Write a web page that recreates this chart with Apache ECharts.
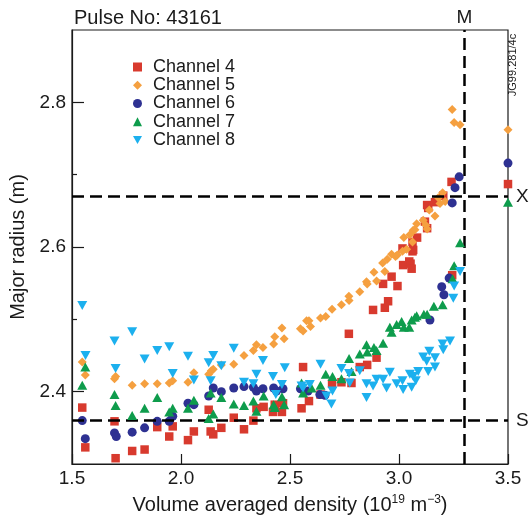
<!DOCTYPE html>
<html>
<head>
<meta charset="utf-8">
<script src="https://cdn.jsdelivr.net/npm/echarts@6/dist/echarts.min.js"></script>
<style>
  html, body { margin: 0; padding: 0; background: #ffffff; }
  #chart { width: 532px; height: 520px; }
</style>
</head>
<body>
<div id="chart"></div>
<script>
// Pulse 43161: major radius of each ECE channel vs. volume averaged density
const seriesNames = ['Channel 4', 'Channel 5', 'Channel 6', 'Channel 7', 'Channel 8'];

const ch4 = [
  [1.547, 2.378], [1.561, 2.323], [1.695, 2.359], [1.700, 2.308], [1.776, 2.318],
  [1.833, 2.320], [1.891, 2.351], [1.946, 2.338], [1.962, 2.352], [2.032, 2.333],
  [2.059, 2.345], [2.127, 2.375], [2.136, 2.345], [2.148, 2.341], [2.185, 2.350],
  [2.242, 2.364], [2.289, 2.348], [2.332, 2.360], [2.346, 2.377], [2.379, 2.379],
  [2.422, 2.372], [2.430, 2.382], [2.463, 2.372], [2.468, 2.384], [2.553, 2.377],
  [2.560, 2.434], [2.587, 2.387], [2.640, 2.396], [2.693, 2.411], [2.736, 2.413],
  [2.770, 2.480], [2.782, 2.412], [2.820, 2.434], [2.854, 2.437], [2.881, 2.513],
  [2.897, 2.447], [2.927, 2.549], [2.935, 2.516], [2.950, 2.525], [2.966, 2.559],
  [2.993, 2.546], [3.016, 2.598], [3.019, 2.575], [3.047, 2.580], [3.053, 2.577],
  [3.058, 2.570], [3.062, 2.594], [3.062, 2.607], [3.065, 2.596], [3.083, 2.613],
  [3.119, 2.635], [3.129, 2.626], [3.129, 2.658], [3.134, 2.654], [3.165, 2.662],
  [3.203, 2.671], [3.241, 2.690], [3.244, 2.561], [3.500, 2.687]
];

const ch5 = [
  [1.547, 2.441], [1.561, 2.423], [1.695, 2.418], [1.700, 2.421], [1.776, 2.409],
  [1.833, 2.411], [1.891, 2.411], [1.946, 2.412], [1.962, 2.415], [2.032, 2.413],
  [2.059, 2.426], [2.127, 2.424], [2.139, 2.429], [2.148, 2.431], [2.185, 2.437],
  [2.242, 2.438], [2.289, 2.450], [2.332, 2.457], [2.346, 2.465], [2.376, 2.461],
  [2.425, 2.466], [2.430, 2.476], [2.463, 2.488], [2.473, 2.473], [2.548, 2.487],
  [2.560, 2.484], [2.576, 2.498], [2.587, 2.498], [2.594, 2.490], [2.640, 2.502],
  [2.664, 2.504], [2.693, 2.514], [2.736, 2.520], [2.770, 2.532], [2.771, 2.526],
  [2.820, 2.538], [2.851, 2.552], [2.854, 2.549], [2.885, 2.565], [2.897, 2.553],
  [2.925, 2.578], [2.935, 2.566], [2.946, 2.583], [2.966, 2.590], [2.984, 2.587],
  [2.992, 2.589], [3.016, 2.594], [3.022, 2.613], [3.035, 2.597], [3.050, 2.617],
  [3.062, 2.607], [3.065, 2.623], [3.073, 2.624], [3.081, 2.632], [3.111, 2.637],
  [3.123, 2.630], [3.129, 2.625], [3.139, 2.651], [3.165, 2.643], [3.180, 2.668],
  [3.188, 2.660], [3.200, 2.675], [3.212, 2.663], [3.244, 2.790], [3.253, 2.772],
  [3.280, 2.769], [3.500, 2.762]
];

const ch6 = [
  [1.547, 2.360], [1.561, 2.335], [1.695, 2.343], [1.703, 2.338], [1.776, 2.344],
  [1.833, 2.350], [1.891, 2.359], [1.946, 2.359], [1.962, 2.366], [2.032, 2.384],
  [2.059, 2.382], [2.127, 2.394], [2.148, 2.405], [2.185, 2.400], [2.242, 2.405],
  [2.289, 2.407], [2.332, 2.406], [2.346, 2.401], [2.376, 2.404], [2.425, 2.405],
  [2.438, 2.401], [2.468, 2.404], [2.548, 2.404], [2.583, 2.401], [2.637, 2.396],
  [2.660, 2.395], [3.142, 2.499], [3.196, 2.545], [3.206, 2.534], [3.230, 2.557],
  [3.244, 2.661], [3.257, 2.682], [3.276, 2.697], [3.500, 2.716]
];

const ch7 = [
  [1.547, 2.409], [1.561, 2.434], [1.695, 2.396], [1.700, 2.381], [1.776, 2.367],
  [1.833, 2.377], [1.891, 2.392], [1.946, 2.372], [1.962, 2.377], [2.032, 2.377],
  [2.059, 2.388], [2.127, 2.363], [2.136, 2.398], [2.148, 2.369], [2.185, 2.392],
  [2.242, 2.383], [2.289, 2.381], [2.332, 2.387], [2.346, 2.373], [2.379, 2.394],
  [2.425, 2.382], [2.430, 2.378], [2.463, 2.393], [2.473, 2.382], [2.553, 2.412],
  [2.560, 2.398], [2.599, 2.405], [2.640, 2.409], [2.664, 2.424], [2.695, 2.421],
  [2.736, 2.418], [2.771, 2.446], [2.782, 2.428], [2.820, 2.452], [2.851, 2.465],
  [2.854, 2.455], [2.885, 2.461], [2.897, 2.457], [2.927, 2.467], [2.958, 2.489],
  [2.966, 2.482], [2.989, 2.493], [3.012, 2.497], [3.022, 2.489], [3.047, 2.489],
  [3.058, 2.499], [3.073, 2.503], [3.081, 2.505], [3.114, 2.507], [3.129, 2.507],
  [3.160, 2.518], [3.200, 2.520], [3.246, 2.556], [3.253, 2.574], [3.280, 2.606],
  [3.500, 2.662]
];

const ch8 = [
  [1.547, 2.519], [1.562, 2.450], [1.695, 2.470], [1.700, 2.432], [1.776, 2.483],
  [1.833, 2.445], [1.891, 2.457], [1.946, 2.462], [1.962, 2.425], [2.032, 2.449],
  [2.059, 2.416], [2.127, 2.440], [2.136, 2.415], [2.148, 2.450], [2.185, 2.436],
  [2.242, 2.460], [2.289, 2.413], [2.332, 2.411], [2.346, 2.424], [2.376, 2.443],
  [2.422, 2.421], [2.435, 2.396], [2.463, 2.410], [2.476, 2.433], [2.553, 2.408],
  [2.560, 2.405], [2.591, 2.410], [2.640, 2.438], [2.667, 2.394], [2.690, 2.383],
  [2.695, 2.401], [2.736, 2.432], [2.771, 2.425], [2.774, 2.412], [2.820, 2.429],
  [2.851, 2.411], [2.851, 2.392], [2.881, 2.408], [2.897, 2.417], [2.927, 2.417],
  [2.943, 2.405], [2.958, 2.427], [2.989, 2.411], [3.016, 2.415], [3.019, 2.403],
  [3.050, 2.424], [3.058, 2.406], [3.065, 2.421], [3.077, 2.415], [3.088, 2.428],
  [3.111, 2.448], [3.127, 2.442], [3.134, 2.428], [3.139, 2.456], [3.165, 2.434],
  [3.165, 2.447], [3.200, 2.466], [3.203, 2.458], [3.234, 2.470], [3.249, 2.529],
  [3.253, 2.546], [3.280, 2.566]
];

// Reference lines: M (density limit), X and S (radius positions)
const densityM = 3.3;
const radiusX = 2.673;
const radiusS = 2.36;

const xTicks = [1.5, 2.0, 2.5, 3.0, 3.5];
const yMajorTicks = [2.4, 2.6, 2.8];
const yMinorTicks = [2.5, 2.7];

const colors = ['#d83a2e', '#f5a040', '#2e3192', '#0e9c4c', '#1cb0ee'];
const symbols = ['rect', 'diamond', 'circle', 'triangle', 'path://M0,0 L10,0 L5,9 Z'];
const sizes = [[8.5, 8.5], [9, 9], [9, 9], [10, 9], [10, 9]];

const FONT = '"Liberation Sans", Arial, Helvetica, sans-serif';
const INK = '#1a1a1a';

const chart = echarts.init(document.getElementById('chart'), null, { renderer: 'canvas' });

const channelData = [ch4, ch5, ch6, ch7, ch8];
const scatterSeries = channelData.map((d, i) => ({
  name: seriesNames[i],
  type: 'scatter',
  data: d,
  symbol: symbols[i],
  symbolSize: sizes[i],
  itemStyle: { color: colors[i], opacity: 1 },
  emphasis: { disabled: true },
  z: 2 + i
}));

const dashStyle = { color: '#000', width: 2.5, type: [12, 6] };

const option = {
  animation: false,
  backgroundColor: '#ffffff',
  textStyle: { fontFamily: FONT },
  title: {
    text: 'Pulse No: 43161',
    left: 69,
    top: 3,
    textStyle: { fontFamily: FONT, fontSize: 20, fontWeight: 'normal', color: INK }
  },
  legend: {
    data: seriesNames,
    orient: 'vertical',
    left: 128,
    top: 53,
    itemWidth: 9,
    itemHeight: 9,
    itemGap: 0.25,
    selectedMode: false,
    textStyle: { fontFamily: FONT, fontSize: 18, color: INK, lineHeight: 16, padding: [0, 0, 0, 6] }
  },
  grid: {
    left: 72, right: 24, top: 30, bottom: 55,
    show: true, borderColor: INK, borderWidth: 1.2, backgroundColor: 'transparent'
  },
  xAxis: {
    type: 'value',
    min: 1.5, max: 3.5, interval: 0.5,
    axisLine: { lineStyle: { color: INK, width: 1.2 } },
    axisTick: { inside: true, length: 10, lineStyle: { color: INK, width: 1.2 }, customValues: xTicks },
    axisLabel: {
      customValues: xTicks,
      formatter: v => v.toFixed(1),
      fontFamily: FONT, fontSize: 19, color: INK, margin: 5
    },
    splitLine: { show: false },
    name: '{t|Volume averaged density (10}{s|19}{t| m}{s|\u22123}{t|)}',
    nameLocation: 'middle',
    nameGap: 30,
    nameTextStyle: {
      rich: {
        t: { fontFamily: FONT, fontSize: 20, color: INK },
        s: { fontFamily: FONT, fontSize: 12, color: INK, padding: [0, 0, 10, 0] }
      }
    }
  },
  yAxis: [
    {
      type: 'value',
      min: 2.3, max: 2.9,
      axisLine: { lineStyle: { color: INK, width: 1.2 } },
      axisTick: { inside: true, length: 12, lineStyle: { color: INK, width: 1.2 }, customValues: yMajorTicks },
      axisLabel: {
        customValues: yMajorTicks,
        formatter: v => v.toFixed(1),
        fontFamily: FONT, fontSize: 19, color: INK, margin: 6
      },
      splitLine: { show: false },
      name: 'Major radius (m)',
      nameLocation: 'middle',
      nameGap: 40,
      nameTextStyle: { fontFamily: FONT, fontSize: 20, color: INK }
    },
    {
      type: 'value',
      min: 2.3, max: 2.9,
      position: 'left',
      axisLine: { show: false },
      axisTick: { inside: true, length: 5, lineStyle: { color: INK, width: 1.2 }, customValues: yMinorTicks },
      axisLabel: { show: false },
      splitLine: { show: false }
    }
  ],
  graphic: [{
    type: 'text',
    x: 513, y: 65,
    rotation: Math.PI / 2,
    style: {
      text: 'JG99.281/4c',
      fontFamily: FONT, fontSize: 11, fill: INK,
      align: 'center', verticalAlign: 'middle'
    },
    z: 100
  }],
  series: scatterSeries.concat([{
    name: 'reference',
    type: 'line',
    data: [],
    silent: true,
    z: 20,
    markLine: {
      silent: true,
      symbol: ['none', 'none'],
      animation: false,
      lineStyle: dashStyle,
      label: {
        show: true, position: 'end', distance: 8,
        fontFamily: FONT, fontSize: 19, color: INK
      },
      emphasis: { disabled: true },
      data: [
        { xAxis: densityM, label: { formatter: 'M', distance: 3 } },
        { yAxis: radiusX, label: { formatter: 'X' } },
        { yAxis: radiusS, label: { formatter: 'S' } }
      ]
    }
  }])
};

chart.setOption(option);
</script>
</body>
</html>
